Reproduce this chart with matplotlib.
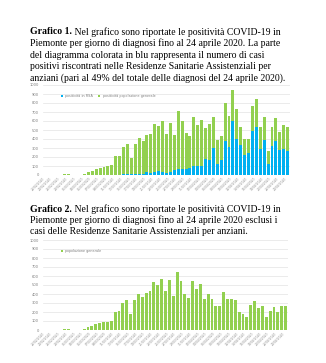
import numpy as np
import pandas as pd
from matplotlib import pyplot as plt

# positivi per giorno di diagnosi
rsa = [0, 0, 0, 0, 0, 0, 0, 0, 0, 0,
       0, 0, 0, 0, 0, 2, 3, 3, 5, 5,
       8, 10, 8, 12, 12, 12, 33, 26, 37, 45,
       33, 26, 30, 60, 63, 63, 67, 78, 97, 97,
       97, 175, 167, 305, 119, 167, 375, 309, 595, 401,
       338, 227, 245, 490, 528, 294, 386, 126, 323, 379,
       275, 290, 264]
generale = [0, 0, 0, 0, 0, 10, 10, 3, 0, 5,
            12, 30, 48, 67, 81, 89, 93, 105, 205, 207,
            300, 333, 178, 333, 400, 363, 412, 435, 530, 495,
            565, 435, 552, 380, 645, 540, 401, 360, 543, 458,
            512, 345, 405, 340, 267, 270, 420, 345, 350, 334,
            200, 174, 150, 280, 317, 240, 262, 140, 215, 253,
            202, 270, 268]
giorni = pd.date_range("2020-02-22", "2020-04-24").strftime("%d/%m/%Y").tolist()

testo1 = ["Nel grafico sono riportate le positività COVID-19 in",
          "Piemonte per giorno di diagnosi fino al 24 aprile 2020. La parte",
          "del diagramma colorata in blu rappresenta il numero di casi",
          "positivi riscontrati nelle Residenze Sanitarie Assistenziali per",
          "anziani (pari al 49% del totale delle diagnosi del 24 aprile 2020)."]
testo2 = ["Nel grafico sono riportate le positività COVID-19 in",
          "Piemonte per giorno di diagnosi fino al 24 aprile 2020 esclusi i",
          "casi delle Residenze Sanitarie Assistenziali per anziani."]

VERDE = "#92d050"
BLU = "#00b0f0"
W, H = 326, 363

fig = plt.figure(figsize=(W / 100, H / 100), dpi=100)
fig.patch.set_facecolor("white")
renderer = fig.canvas.get_renderer()


def paragrafo(titolo, righe, y_first, step=11.5):
    font = dict(family="Liberation Serif", fontsize=7.0, color="black", va="center")
    x0 = 30 / W
    t = fig.text(x0, 1 - y_first / H, titolo, fontweight="bold", **font)
    bb = t.get_window_extent(renderer)
    fig.text(bb.x1 / W, 1 - y_first / H, " " + righe[0], **font)
    for k, r in enumerate(righe[1:], start=1):
        fig.text(x0, 1 - (y_first + k * step) / H, r, **font)


def grafico(ax, serie, labels, colori):
    x = np.arange(len(giorni))
    base = np.zeros(len(giorni))
    for s, lab, c in zip(serie, labels, colori):
        ax.bar(x, s, width=0.75, bottom=base, color=c, label=lab, zorder=2)
        base = base + np.array(s)
    ax.set_ylim(0, 1000)
    ax.set_yticks(np.arange(0, 1001, 100))
    ax.set_xlim(-0.6, len(giorni) - 0.4)
    ax.set_xticks(x[::2])
    ax.set_xticklabels(giorni[::2], rotation=45, ha="right", fontsize=2.2, color="#8c8c8c")
    ax.tick_params(axis="y", labelsize=2.6, labelcolor="#7f7f7f", length=0, pad=3)
    ax.tick_params(axis="x", length=0, pad=1)
    ax.grid(axis="y", color="#e3e3e3", linewidth=0.5, zorder=0)
    for sp in ax.spines.values():
        sp.set_visible(False)
    ax.axhline(0, color="#d0d0d0", linewidth=0.5, zorder=1)
    ax.legend(loc="upper left", bbox_to_anchor=(0.06, 0.93), ncol=2, frameon=False,
              fontsize=2.4, handlelength=0.6, handleheight=0.6, columnspacing=1.5,
              labelcolor="#7f7f7f")


paragrafo("Grafico 1.", testo1, 32)
paragrafo("Grafico 2.", testo2, 209)

ax1 = fig.add_axes([43 / W, 1 - 175 / H, 247 / W, 90 / H])
grafico(ax1, [rsa, generale], ["positività in RSA", "positività popolazione generale"], [BLU, VERDE])

ax2 = fig.add_axes([43 / W, 1 - 330 / H, 245 / W, 90 / H])
grafico(ax2, [generale], ["popolazione generale"], [VERDE])

fig.savefig("out.png", dpi=100)
